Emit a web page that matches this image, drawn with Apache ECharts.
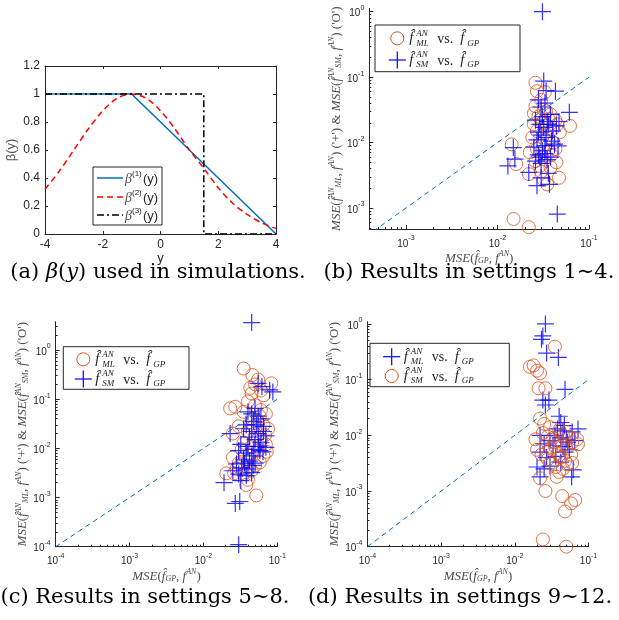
<!DOCTYPE html>
<html><head><meta charset="utf-8">
<script src="https://cdn.jsdelivr.net/npm/echarts@6/dist/echarts.min.js"></script>
<style>html,body{margin:0;padding:0;background:#fff}#c{width:619px;height:620px}</style>
</head><body><div id="c"></div>
<script>
// ---------- Panel (a): beta(y) curves ----------
const aB1X = [-4, -1, 4];
const aB1Y = [1, 1, 0];
const aB2X = [-4, -3.5, -3, -2.5, -2, -1.5, -1, -0.5, 0, 0.5, 1, 1.5, 2, 2.5, 3, 3.5, 4];
const aB2Y = [0.32, 0.45, 0.6, 0.75, 0.88, 0.97, 1.0, 0.97, 0.88, 0.75, 0.6, 0.47, 0.33, 0.22, 0.14, 0.08, 0.04];
const aB3X = [-4, 1.5, 1.5, 4];
const aB3Y = [1, 1, 0, 0];

// ---------- Panel (b): settings 1~4 ----------
const bML = [[0.015,6.8e-4],[0.022,5.1e-4],[0.0143,0.0094],[0.016,0.0047],[0.022,0.0033],[0.035,0.0023],[0.047,0.0029],[0.062,0.018],[0.026,0.082],[0.027,0.061],[0.033,0.059],[0.026,0.036],[0.032,0.032],[0.043,0.022],[0.048,0.0144],[0.043,0.008],[0.044,0.005],[0.029,0.0044],[0.0226,0.0071],[0.030,0.045],[0.028,0.025],[0.031,0.02],[0.035,0.018],[0.027,0.015],[0.025,0.019],[0.038,0.027],[0.033,0.011],[0.029,0.0095],[0.036,0.0075],[0.031,0.006],[0.026,0.0052],[0.040,0.016],[0.034,0.03],[0.024,0.012],[0.041,0.01],[0.027,0.008],[0.038,0.0042],[0.03,0.0036],[0.033,0.014],[0.036,0.023],[0.045,0.019],[0.025,0.028],[0.039,0.0065],[0.032,0.0027]];
const bSM = [[0.031,1.0],[0.045,8.1e-4],[0.032,0.087],[0.043,0.061],[0.061,0.029],[0.0149,0.0084],[0.0155,0.0056],[0.013,0.0044],[0.022,0.0035],[0.027,0.0022],[0.037,0.0023],[0.046,0.0089],[0.044,0.018],[0.028,0.045],[0.030,0.035],[0.033,0.04],[0.026,0.022],[0.029,0.019],[0.032,0.017],[0.035,0.021],[0.030,0.013],[0.027,0.011],[0.033,0.009],[0.031,0.0075],[0.028,0.0065],[0.035,0.0055],[0.03,0.0048],[0.038,0.006],[0.042,0.0095],[0.025,0.0085],[0.029,0.006],[0.034,0.012],[0.040,0.015],[0.036,0.019],[0.031,0.025],[0.026,0.0052],[0.039,0.0105],[0.028,0.0145],[0.047,0.021],[0.033,0.0068],[0.036,0.0034],[0.03,0.0029],[0.034,0.062],[0.038,0.027]];

// ---------- Panel (c): settings 5~8 ----------
const cML = [[0.035,0.42],[0.052,0.0011],[0.046,0.31],[0.083,0.21],[0.023,0.065],[0.026,0.0031],[0.04,0.0023],[0.072,0.0085],[0.05,0.2],[0.055,0.25],[0.06,0.15],[0.045,0.13],[0.065,0.12],[0.04,0.09],[0.05,0.075],[0.06,0.06],[0.07,0.05],[0.035,0.055],[0.045,0.04],[0.055,0.035],[0.065,0.03],[0.075,0.025],[0.03,0.028],[0.04,0.022],[0.05,0.018],[0.06,0.015],[0.07,0.012],[0.025,0.02],[0.035,0.013],[0.045,0.011],[0.055,0.009],[0.065,0.007],[0.025,0.0065],[0.03,0.005],[0.04,0.0055],[0.05,0.0045],[0.028,0.0038],[0.035,0.003],[0.045,0.0035],[0.0204,0.0031],[0.038,0.0018],[0.03,0.0042],[0.042,0.0075],[0.058,0.0052],[0.068,0.0185],[0.033,0.0095],[0.048,0.028],[0.058,0.045],[0.043,0.17],[0.027,0.07]];
const cSM = [[0.045,3.6],[0.03,1.1e-4],[0.027,7.6e-4],[0.031,8.3e-4],[0.019,0.002],[0.023,0.02],[0.055,0.21],[0.079,0.154],[0.087,0.14],[0.064,0.0085],[0.056,0.011],[0.062,0.18],[0.05,0.065],[0.04,0.055],[0.045,0.05],[0.055,0.045],[0.06,0.04],[0.048,0.035],[0.038,0.03],[0.052,0.03],[0.065,0.028],[0.035,0.025],[0.045,0.022],[0.055,0.02],[0.07,0.018],[0.042,0.017],[0.05,0.015],[0.06,0.013],[0.032,0.012],[0.04,0.011],[0.048,0.0095],[0.058,0.009],[0.07,0.0105],[0.03,0.009],[0.038,0.008],[0.045,0.007],[0.035,0.006],[0.042,0.0055],[0.05,0.005],[0.028,0.0048],[0.033,0.004],[0.04,0.0038],[0.047,0.0045],[0.025,0.0035],[0.03,0.003],[0.038,0.0028],[0.045,0.0032],[0.032,0.0022],[0.036,0.005],[0.065,0.022]];

// ---------- Panel (d): settings 9~12 ----------
const dML = [[0.026,1.0],[0.024,0.61],[0.023,0.53],[0.027,0.3],[0.039,0.25],[0.048,0.067],[0.024,0.043],[0.029,0.043],[0.026,0.035],[0.072,0.013],[0.062,0.0024],[0.02,0.0027],[0.022,0.0018],[0.059,0.0018],[0.045,0.0063],[0.052,0.0075],[0.04,0.022],[0.042,0.017],[0.047,0.015],[0.038,0.013],[0.045,0.012],[0.035,0.01],[0.042,0.009],[0.05,0.0085],[0.03,0.008],[0.025,0.007],[0.033,0.0065],[0.048,0.005],[0.055,0.0055],[0.022,0.005],[0.027,0.004],[0.036,0.0042],[0.042,0.0033],[0.03,0.0028],[0.025,0.0025],[0.065,0.008],[0.06,0.0115],[0.022,0.01]];
const dSM = [[0.035,0.39],[0.024,1.35e-4],[0.05,1.0e-4],[0.048,4.3e-4],[0.066,6.9e-4],[0.058,6.0e-4],[0.044,8.1e-4],[0.026,1.0e-3],[0.016,0.17],[0.018,0.18],[0.02,0.145],[0.022,0.13],[0.021,0.07],[0.026,0.07],[0.035,0.0063],[0.036,0.0027],[0.072,0.0069],[0.07,0.0085],[0.022,0.02],[0.025,0.016],[0.03,0.014],[0.024,0.011],[0.028,0.0095],[0.033,0.009],[0.04,0.0125],[0.045,0.01],[0.05,0.0115],[0.055,0.009],[0.06,0.0075],[0.019,0.0085],[0.02,0.0055],[0.023,0.0045],[0.027,0.005],[0.031,0.0058],[0.038,0.0048],[0.042,0.004],[0.048,0.0035],[0.052,0.003],[0.045,0.0025],[0.04,0.0022],[0.032,0.0031],[0.028,0.0037],[0.035,0.0075],[0.05,0.006],[0.058,0.0045],[0.022,0.0017],[0.037,0.0018],[0.06,0.0032],[0.044,0.0068]];

// diagonal reference lines (y = x)
const bDiag = [[4.4e-4, 4.4e-4], [0.1, 0.1]];
const cDiag = [[1e-4, 1e-4], [0.1, 0.1]];
const dDiag = [[1e-4, 1e-4], [0.1, 0.1]];

// major tick values
const aXTicks = [-4, -2, 0, 2, 4];
const aYTicks = [0, 0.2, 0.4, 0.6, 0.8, 1, 1.2];
const bXTicks = [1e-3, 1e-2, 1e-1];
const bYTicks = [1e-3, 1e-2, 1e-1, 1];
const cXTicks = [1e-4, 1e-3, 1e-2, 1e-1];
const cYTicks = [1e-4, 1e-3, 1e-2, 1e-1, 1];
const dXTicks = [1e-4, 1e-3, 1e-2, 1e-1];
const dYTicks = [1e-4, 1e-3, 1e-2, 1e-1, 1];

const AX = '#262626', LAB = '#4d4d4d';
const BLUE = '#0072BD', RED = '#FF0000', ORANGE = '#D95319', PBLUE = '#0000FF';
const SANS = '"Liberation Sans", Arial, sans-serif';
const SERIF = '"DejaVu Serif", serif';
const MSERIF = '"Liberation Serif", serif';

function minors(lo, hi) {
  const out = [];
  for (let e = Math.floor(Math.log10(lo)); e <= Math.ceil(Math.log10(hi)); e++) {
    for (let k = 2; k <= 9; k++) { const v = k * Math.pow(10, e); if (v > lo && v < hi) out.push(v); }
  }
  return out;
}
const expLabel = v => {
  const l = Math.log10(v), e = Math.round(l);
  if (Math.abs(l - e) > 1e-6) return '';
  return '{b|10}{s|' + e + '}';
};
const tickRich = {
  b: { fontFamily: SANS, fontSize: 10, color: AX, lineHeight: 14, verticalAlign: 'bottom' },
  s: { fontFamily: SANS, fontSize: 7, color: AX, lineHeight: 8, verticalAlign: 'top' }
};
const nameRich = {
  i: { fontFamily: MSERIF, fontStyle: 'italic', fontSize: 13, color: LAB, lineHeight: 15, verticalAlign: 'bottom' },
  r: { fontFamily: MSERIF, fontSize: 13, color: LAB, lineHeight: 15, verticalAlign: 'bottom' },
  sup: { fontFamily: MSERIF, fontStyle: 'italic', fontSize: 8, color: LAB, lineHeight: 9, verticalAlign: 'top' },
  sub: { fontFamily: MSERIF, fontStyle: 'italic', fontSize: 8, color: LAB, lineHeight: 8, verticalAlign: 'bottom' }
};
const xNameTxt = '{i|MSE}{r|(}{i|f\u0302}{sub|GP}{r|, }{i|f}{sup|AN}{r|)}';
const yNameTxt = '{i|MSE}{r|(}{i|f\u0302}{sup|AN}{sub|ML}{r|, }{i|f}{sup|AN}{r|) (\'+\') & }{i|MSE}{r|(}{i|f\u0302}{sup|AN}{sub|SM}{r|, }{i|f}{sup|AN}{r|) (\'O\')}';

const grids = [
  { left: 45, top: 66, width: 231, height: 168 },
  { left: 369.3, top: 8.4, width: 219.7, height: 220.6 },
  { left: 55.7, top: 321.7, width: 221.6, height: 225 },
  { left: 367.5, top: 321.7, width: 221, height: 225 }
];
const logRanges = [
  null,
  { x: [Math.pow(10, -3.4), 0.1], y: [Math.pow(10, -3.32), Math.pow(10, 0.05)], xt: bXTicks, yt: bYTicks, yGap: 26 },
  { x: [1e-4, 0.1], y: [1e-4, Math.pow(10, 0.575)], xt: cXTicks, yt: cYTicks, yGap: 23 },
  { x: [1e-4, 0.1], y: [1e-4, Math.pow(10, 0.04)], xt: dXTicks, yt: dYTicks, yGap: 25 }
];

const line = { onZero: false, lineStyle: { color: AX, width: 1 } };
const xAxes = [], yAxes = [];
// panel (a) axes: box with mirrored ticks
xAxes.push({ type: 'value', gridIndex: 0, min: -4, max: 4, interval: 2, position: 'bottom',
  axisLine: line, axisTick: { inside: true, length: 3, lineStyle: { color: AX } },
  splitLine: { show: false }, axisLabel: { color: AX, fontFamily: SANS, fontSize: 12, margin: 5, customValues: aXTicks },
  name: 'y', nameLocation: 'middle', nameGap: 17, nameTextStyle: { color: AX, fontFamily: SANS, fontSize: 13 } });
xAxes.push({ type: 'value', gridIndex: 0, min: -4, max: 4, interval: 2, position: 'top',
  axisLine: line, axisTick: { inside: true, length: 3, lineStyle: { color: AX } },
  splitLine: { show: false }, axisLabel: { show: false } });
yAxes.push({ type: 'value', gridIndex: 0, min: 0, max: 1.2, interval: 0.2, position: 'left',
  axisLine: line, axisTick: { inside: true, length: 3, lineStyle: { color: AX } },
  splitLine: { show: false }, axisLabel: { color: AX, fontFamily: SANS, fontSize: 12, margin: 5, customValues: aYTicks },
  name: '\u03b2(y)', nameLocation: 'middle', nameGap: 27, nameRotate: 90, nameTextStyle: { color: '#555', fontFamily: SANS, fontSize: 13 } });
yAxes.push({ type: 'value', gridIndex: 0, min: 0, max: 1.2, interval: 0.2, position: 'right',
  axisLine: line, axisTick: { inside: true, length: 3, lineStyle: { color: AX } },
  splitLine: { show: false }, axisLabel: { show: false } });

// log panels: main axis + minor-tick axis for x and y
for (let g = 1; g <= 3; g++) {
  const r = logRanges[g];
  xAxes.push({ type: 'log', logBase: 10, gridIndex: g, min: r.x[0], max: r.x[1], position: 'bottom',
    axisLine: line,
    axisTick: { inside: true, length: 4, lineStyle: { color: AX }, customValues: r.xt },
    splitLine: { show: false }, minorTick: { show: false },
    axisLabel: { formatter: expLabel, rich: tickRich, margin: 6, customValues: r.xt },
    name: xNameTxt, nameLocation: 'middle', nameGap: 16, nameTextStyle: { rich: nameRich } });
  xAxes.push({ type: 'log', logBase: 10, gridIndex: g, min: r.x[0], max: r.x[1], position: 'bottom',
    axisLine: { show: false, onZero: false }, axisTick: { inside: true, length: 2, lineStyle: { color: AX }, customValues: minors(r.x[0], r.x[1]) },
    splitLine: { show: false }, axisLabel: { show: false } });
  yAxes.push({ type: 'log', logBase: 10, gridIndex: g, min: r.y[0], max: r.y[1], position: 'left',
    axisLine: line,
    axisTick: { inside: true, length: 4, lineStyle: { color: AX }, customValues: r.yt },
    splitLine: { show: false },
    axisLabel: { formatter: expLabel, rich: tickRich, margin: 5, customValues: r.yt },
    name: yNameTxt, nameLocation: 'middle', nameGap: r.yGap, nameRotate: 90, nameTextStyle: { rich: nameRich } });
  yAxes.push({ type: 'log', logBase: 10, gridIndex: g, min: r.y[0], max: r.y[1], position: 'left',
    axisLine: { show: false, onZero: false }, axisTick: { inside: true, length: 2, lineStyle: { color: AX }, customValues: minors(r.y[0], r.y[1]) },
    splitLine: { show: false }, axisLabel: { show: false } });
}
// axis indices: grid1 -> x 2, y 2 ; grid2 -> x 4, y 4 ; grid3 -> x 6, y 6
const zip = (xs, ys) => xs.map((x, i) => [x, ys[i]]);
const PLUS = 'path://M10,0L10,20M0,10L20,10';
const circ = (data, xi) => ({ type: 'scatter', xAxisIndex: xi, yAxisIndex: xi, data, symbol: 'circle', symbolSize: 13,
  itemStyle: { color: 'rgba(0,0,0,0)', borderColor: ORANGE, borderWidth: 1 }, emphasis: { disabled: true }, silent: true });
const plus = (data, xi) => ({ type: 'scatter', xAxisIndex: xi, yAxisIndex: xi, data, symbol: PLUS, symbolSize: 17,
  itemStyle: { color: 'rgba(0,0,0,0)', borderColor: PBLUE, borderWidth: 1.2 }, emphasis: { disabled: true }, silent: true });
const diag = (data, xi) => ({ type: 'line', xAxisIndex: xi, yAxisIndex: xi, data, symbol: 'none', clip: true,
  lineStyle: { color: BLUE, width: 1, type: [5, 4] }, silent: true });

const series = [
  { type: 'line', xAxisIndex: 0, yAxisIndex: 0, data: zip(aB1X, aB1Y), symbol: 'none', lineStyle: { color: BLUE, width: 1.5 } },
  { type: 'line', xAxisIndex: 0, yAxisIndex: 0, data: zip(aB2X, aB2Y), symbol: 'none', smooth: 0.3, lineStyle: { color: RED, width: 1.5, type: [6, 4] } },
  { type: 'line', xAxisIndex: 0, yAxisIndex: 0, data: zip(aB3X, aB3Y), symbol: 'none', lineStyle: { color: '#000', width: 1.5, type: [7, 3, 2, 3] } },
  diag(bDiag, 2), circ(bML, 2), plus(bSM, 2),
  diag(cDiag, 4), circ(cML, 4), plus(cSM, 4),
  diag(dDiag, 6), plus(dML, 6), circ(dSM, 6)
];

// ---------- legends and captions (graphic) ----------
const graphic = [];
function txt(x, y, text, font, opt) {
  graphic.push(Object.assign({ type: 'text', x, y, silent: true, style: Object.assign({ text, font, fill: AX,
    align: 'left', verticalAlign: 'middle', textAlign: 'left', textVerticalAlign: 'middle' }, opt || {}) }));
}
function fhat(x, y, sup, sub) {
  txt(x, y, 'f\u0302', 'italic 15px ' + MSERIF);
  if (sup) txt(x + 7, y - 5, sup, 'italic 9px ' + MSERIF);
  if (sub) txt(x + 7, y + 5, sub, 'italic 9px ' + MSERIF);
}
function scatterLegend(bx, by, bw, bh, iconX, rows) {
  graphic.push({ type: 'rect', silent: true, shape: { x: bx, y: by, width: bw, height: bh }, style: { fill: '#fff', stroke: AX, lineWidth: 1 } });
  rows.forEach(r => {
    if (r.icon === 'circle') graphic.push({ type: 'circle', silent: true, shape: { cx: iconX, cy: r.y, r: 6.5 }, style: { fill: 'none', stroke: ORANGE, lineWidth: 1 } });
    else {
      graphic.push({ type: 'line', silent: true, shape: { x1: iconX - 8.5, y1: r.y, x2: iconX + 8.5, y2: r.y }, style: { stroke: PBLUE, lineWidth: 1.2 } });
      graphic.push({ type: 'line', silent: true, shape: { x1: iconX, y1: r.y - 8.5, x2: iconX, y2: r.y + 8.5 }, style: { stroke: PBLUE, lineWidth: 1.2 } });
    }
    const x0 = iconX + 12;
    fhat(x0, r.y, 'AN', r.sub);
    txt(x0 + 28, r.y + 1, 'vs.', '14px ' + MSERIF);
    fhat(x0 + 51, r.y, null, 'GP');
  });
}
scatterLegend(375, 25, 145, 46.7, 397.3, [{ icon: 'circle', y: 38.3, sub: 'ML' }, { icon: 'plus', y: 60, sub: 'SM' }]);
scatterLegend(63.3, 346.7, 125.7, 42.6, 83.3, [{ icon: 'circle', y: 359.3, sub: 'ML' }, { icon: 'plus', y: 379, sub: 'SM' }]);
scatterLegend(370, 343.3, 139.3, 43.4, 391.7, [{ icon: 'plus', y: 356.7, sub: 'ML' }, { icon: 'circle', y: 376, sub: 'SM' }]);

// legend (a)
graphic.push({ type: 'rect', silent: true, shape: { x: 93, y: 167, width: 69, height: 58 }, style: { fill: '#fff', stroke: AX, lineWidth: 1 } });
const aLeg = [{ y: 178, c: BLUE, d: null, s: '(1)' }, { y: 197, c: RED, d: [6, 4], s: '(2)' }, { y: 215, c: '#000', d: [7, 3, 2, 3], s: '(3)' }];
aLeg.forEach(r => {
  graphic.push({ type: 'line', silent: true, shape: { x1: 97, y1: r.y, x2: 123, y2: r.y }, style: { stroke: r.c, lineWidth: 1.5, lineDash: r.d } });
  txt(125, r.y + 1, '\u03b2', 'italic 14px ' + MSERIF, { fill: '#555' });
  txt(132, r.y - 4, r.s, '8px ' + SANS);
  txt(143, r.y + 1, '(y)', '13px ' + SANS);
});

// captions
const capRich = {
  r: { fontFamily: SERIF, fontSize: 21, color: '#000' },
  i: { fontFamily: SERIF, fontStyle: 'italic', fontSize: 21, color: '#000' }
};
function cap(cx, cy, text) {
  graphic.push({ type: 'text', x: cx, y: cy, silent: true, style: { text, rich: capRich, align: 'center', verticalAlign: 'middle', textAlign: 'center', textVerticalAlign: 'middle' } });
}
cap(158, 272.5, '{r|(a) }{i|\u03b2}{r|(}{i|y}{r|) used in simulations.}');
cap(469, 272.5, '{r|(b) Results in settings 1\u223c4.}');
cap(145, 598, '{r|(c) Results in settings 5\u223c8.}');
cap(460, 598, '{r|(d) Results in settings 9\u223c12.}');

const chart = echarts.init(document.getElementById('c'), null, { renderer: 'canvas' });
chart.setOption({
  backgroundColor: '#fff',
  animation: false,
  grid: grids.map(g => Object.assign({ containLabel: false, outerBoundsMode: 'none' }, g)),
  xAxis: xAxes,
  yAxis: yAxes,
  series,
  graphic
});
</script></body></html>
